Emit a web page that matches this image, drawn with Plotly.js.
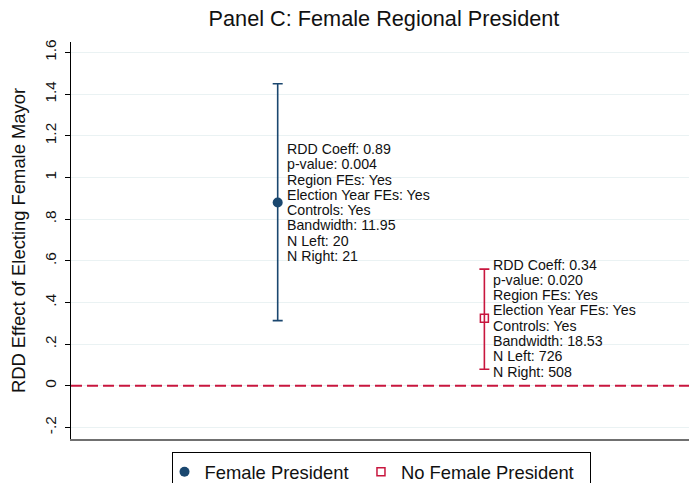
<!DOCTYPE html>
<html>
<head>
<meta charset="utf-8">
<script src="https://cdn.plot.ly/plotly-3.0.1.min.js"></script>
<style>
html,body{margin:0;padding:0;background:#fff;overflow:hidden;}
#chart{width:689px;height:483px;}
</style>
</head>
<body>
<div id="chart"></div>
<script>
// ---- data ----
var seriesNames = ["Female President", "No Female President"];
var xPos = [1, 2];
var coef = [0.88, 0.325];
var ciLow = [0.313, 0.080];
var ciHigh = [1.450, 0.560];
var labelsFemale = ["RDD Coeff: 0.89", "p-value: 0.004", "Region FEs: Yes", "Election Year FEs: Yes", "Controls: Yes", "Bandwidth: 11.95", "N Left: 20", "N Right: 21"];
var labelsNoFemale = ["RDD Coeff: 0.34", "p-value: 0.020", "Region FEs: Yes", "Election Year FEs: Yes", "Controls: Yes", "Bandwidth: 18.53", "N Left: 726", "N Right: 508"];
var yTickVals = [-0.2, 0, 0.2, 0.4, 0.6, 0.8, 1, 1.2, 1.4, 1.6];
var yTickText = ["-.2", "0", ".2", ".4", ".6", ".8", "1", "1.2", "1.4", "1.6"];

var colors = ["#1a476f", "#c8163e"];
var FONT = "Liberation Sans, Arial, Helvetica, sans-serif";
var NB = "\u00a0";
var legendPad = [NB + NB + NB, NB + NB];

var markerSizes = [10, 8];
var markers = [
  {symbol: "circle", size: markerSizes[0], color: colors[0], line: {width: 0}},
  {symbol: "square-open", size: markerSizes[1], color: colors[1], line: {width: 1.5, color: colors[1]}}
];
var traces = [];
for (var i = 0; i < 2; i++) {
  traces.push({
    type: "scatter",
    mode: "markers",
    name: seriesNames[i] + legendPad[i],
    x: [xPos[i]],
    y: [coef[i]],
    marker: markers[i],
    error_y: {
      type: "data",
      symmetric: false,
      array: [ciHigh[i] - coef[i]],
      arrayminus: [coef[i] - ciLow[i]],
      color: colors[i],
      thickness: 1.6,
      width: 5
    }
  });
}

var allLabels = [labelsFemale, labelsNoFemale];
var annotations = [];
var lineGap = 15.3;
for (var s = 0; s < 2; s++) {
  var lines = allLabels[s];
  var mid = (lines.length - 1) / 2;
  for (var j = 0; j < lines.length; j++) {
    annotations.push({
      x: xPos[s], y: coef[s], xref: "x", yref: "y",
      text: lines[j], showarrow: false,
      xanchor: "left", yanchor: "middle",
      xshift: markerSizes[s] / 2 + 3.5, yshift: (mid - j) * lineGap,
      borderpad: 0, align: "left",
      font: {family: FONT, size: 14.2, color: "#111"}
    });
  }
}

var layout = {
  width: 689, height: 483,
  margin: {l: 71, r: 0, t: 42, b: 44, autoexpand: false},
  paper_bgcolor: "#fff", plot_bgcolor: "#fff",
  font: {family: FONT, color: "#111"},
  showlegend: true,
  title: {
    text: "Panel C: Female Regional President",
    font: {family: FONT, size: 21.7, color: "#111"},
    x: 0.5 + 4 / 618, xref: "paper", xanchor: "center",
    y: 1 - 18 / 483, yref: "container", yanchor: "middle"
  },
  xaxis: {
    range: [0, 2.99],
    showticklabels: false, ticks: "",
    showgrid: false, zeroline: false,
    showline: true, linecolor: "#707070", linewidth: 2
  },
  yaxis: {
    range: [-0.255, 1.65],
    tickvals: yTickVals, ticktext: yTickText,
    tickangle: -90,
    ticks: "outside", ticklen: 5, tickcolor: "#000", tickwidth: 1,
    ticklabelstandoff: 3,
    tickfont: {family: FONT, size: 15.4, color: "#111"},
    showgrid: true, gridcolor: "#eaf2f3", gridwidth: 1,
    zeroline: false,
    showline: true, linecolor: "#000", linewidth: 1,
    automargin: false,
    title: {text: "RDD Effect of Electing Female Mayor", font: {family: FONT, size: 18.4, color: "#111"}, standoff: 11}
  },
  shapes: [{
    type: "line", xref: "paper", x0: 0, x1: 1, yref: "y", y0: 0, y1: 0,
    line: {color: colors[1], width: 2, dash: "11px,5px"}
  }],
  legend: {
    orientation: "h",
    x: 0.5 + 1 / 618, xanchor: "center", xref: "paper",
    y: -0.0335, yanchor: "top",
    bordercolor: "#000", borderwidth: 1,
    bgcolor: "#fff",
    font: {family: FONT, size: 18.4, color: "#111"},
    itemwidth: 30,
    indentation: -8
  },
  annotations: annotations,
  hovermode: false
};

Plotly.newPlot("chart", traces, layout, {staticPlot: true, displayModeBar: false});
</script>
</body>
</html>
